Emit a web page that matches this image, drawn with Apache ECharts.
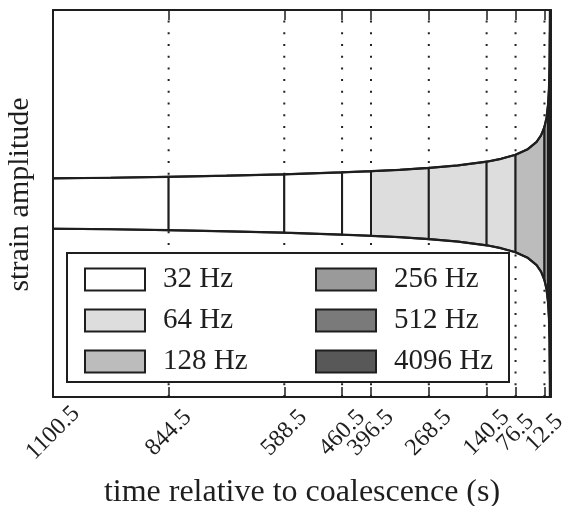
<!DOCTYPE html>
<html>
<head>
<meta charset="utf-8">
<script src="https://cdn.jsdelivr.net/npm/echarts@6/dist/echarts.min.js"></script>
<style>html,body{margin:0;padding:0;background:#fff}#c{width:562px;height:506px}</style>
</head>
<body>
<div id="c"></div>
<script>
// Envelope: time before coalescence (s) and strain amplitude (arbitrary, axis -1..1)
const tau = [1100.5, 972.5, 844.5, 716.5, 588.5, 524.5, 460.5, 396.5, 332.5, 268.5, 204.5, 140.5, 108.5, 76.5, 50, 30, 20, 12.5, 8, 4.5, 2.5, 1.2, 0.5, 0.3];
const amp = [0.130, 0.133, 0.138, 0.144, 0.151, 0.156, 0.161, 0.167, 0.174, 0.184, 0.197, 0.216, 0.231, 0.252, 0.280, 0.318, 0.352, 0.396, 0.442, 0.511, 0.592, 0.711, 0.885, 1.0];
// Tick labels
const ticks = [1100.5, 844.5, 588.5, 460.5, 396.5, 268.5, 140.5, 76.5, 12.5];
// Segments per sample rate [start, end]
const bands = ['32 Hz', '64 Hz', '128 Hz', '256 Hz', '512 Hz', '4096 Hz'];
const seg32 = [[1100.5, 844.5], [844.5, 588.5], [588.5, 460.5], [460.5, 396.5]];
const seg64 = [[396.5, 268.5], [268.5, 140.5], [140.5, 76.5]];
const seg128 = [[76.5, 12.5]];
const seg256 = [[12.5, 4.5]];
const seg512 = [[4.5, 0.5]];
const seg4096 = [[0.5, 0.3]];
const segs = [seg32, seg64, seg128, seg256, seg512, seg4096];
const colors = ['#ffffff', '#dddddd', '#bcbcbc', '#9a9a9a', '#7a7a7a', '#585858'];

const FONT = 'Liberation Serif';
const INK = '#1e1e1e';

// labels split over two bottom axes so that neighbouring labels never get auto-hidden
const ticksA = ticks.filter((t, i) => i % 2 === 0);
const ticksB = ticks.filter((t, i) => i % 2 === 1);

function bandRender(params, api) {
  const t0 = api.value(0), t1 = api.value(1);
  const up = [], lo = [];
  for (let i = 0; i < tau.length; i++) {
    if (tau[i] <= t0 && tau[i] >= t1) {
      up.push(api.coord([tau[i], amp[i]]));
      lo.push(api.coord([tau[i], -amp[i]]));
    }
  }
  const pts = up.concat(lo.reverse());
  return {
    type: 'polygon',
    shape: { points: pts },
    style: { fill: api.visual('color'), stroke: INK, lineWidth: 2 }
  };
}

const series = [];
series.push({
  type: 'custom', name: 'dots', z: 1, silent: true,
  data: ticks.map(t => [t]),
  encode: { x: 0 },
  renderItem: function (params, api) {
    const a = api.coord([api.value(0), -1]);
    const b = api.coord([api.value(0), 1]);
    return { type: 'line', shape: { x1: a[0], y1: a[1], x2: b[0], y2: b[1] },
      style: { stroke: '#222', lineWidth: 2, lineDash: [2, 9.7] } };
  }
});
bands.forEach((name, k) => {
  series.push({
    type: 'custom', name: name, z: 2,
    itemStyle: { color: colors[k] },
    data: segs[k],
    encode: { x: [0, 1] },
    renderItem: bandRender
  });
});
series.push({
  type: 'line', name: 'upper', z: 3, symbol: 'none', silent: true,
  lineStyle: { color: INK, width: 2.2 },
  data: tau.map((t, i) => [t, amp[i]])
});
series.push({
  type: 'line', name: 'lower', z: 3, symbol: 'none', silent: true,
  lineStyle: { color: INK, width: 2.2 },
  data: tau.map((t, i) => [t, -amp[i]])
});

const legendCommon = {
  orient: 'vertical', icon: 'rect', itemWidth: 60, itemHeight: 22, itemGap: 12,
  z: 6, selectedMode: false,
  itemStyle: { borderColor: INK, borderWidth: 2 },
  textStyle: { fontFamily: FONT, fontSize: 29, color: INK, padding: [0, 0, 0, 13] }
};

const labelStyle = { show: true, rotate: 45, align: 'center', verticalAlign: 'middle', margin: 36,
  hideOverlap: false, formatter: v => String(v), fontFamily: FONT, fontSize: 24, color: INK };

const chart = echarts.init(document.getElementById('c'), null, { renderer: 'canvas' });
chart.setOption({
  animation: false,
  backgroundColor: '#fff',
  grid: { left: 53, right: 11, top: 10, bottom: 109, containLabel: false, outerBoundsMode: 'none' },
  graphic: [{
    type: 'rect', z: 4, shape: { x: 67, y: 253, width: 442, height: 129 },
    style: { fill: '#fff', stroke: INK, lineWidth: 2 }
  }],
  legend: [
    Object.assign({}, legendCommon, { data: bands.slice(0, 3), left: 79, top: 260 }),
    Object.assign({}, legendCommon, { data: bands.slice(3), left: 310, top: 260 })
  ],
  xAxis: [{
    type: 'value', inverse: true, min: -2, max: 1100.5, position: 'bottom', z: 5,
    name: 'time relative to coalescence (s)', nameLocation: 'middle', nameGap: 80,
    nameTextStyle: { fontFamily: FONT, fontSize: 32, color: INK },
    axisLine: { show: true, onZero: false, lineStyle: { color: INK, width: 2 } },
    axisTick: { show: true, inside: true, length: 10, customValues: ticks, lineStyle: { color: INK, width: 1.5 } },
    axisLabel: Object.assign({ customValues: ticksA }, labelStyle),
    splitLine: { show: false }
  }, {
    type: 'value', inverse: true, min: -2, max: 1100.5, position: 'top', z: 5,
    axisLine: { show: true, onZero: false, lineStyle: { color: INK, width: 2 } },
    axisTick: { show: true, inside: true, length: 10, customValues: ticks, lineStyle: { color: INK, width: 1.5 } },
    axisLabel: { show: false },
    splitLine: { show: false }
  }, {
    type: 'value', inverse: true, min: -2, max: 1100.5, position: 'bottom', offset: 0, z: 5,
    axisLine: { show: false }, axisTick: { show: false },
    axisLabel: Object.assign({ customValues: ticksB }, labelStyle),
    splitLine: { show: false }
  }],
  yAxis: [{
    type: 'value', min: -1, max: 1, position: 'left', z: 5,
    name: 'strain amplitude', nameLocation: 'middle', nameGap: 18,
    nameTextStyle: { fontFamily: FONT, fontSize: 30, color: INK, padding: [0, 0, 0, 18] },
    axisLine: { show: true, onZero: false, lineStyle: { color: INK, width: 2 } },
    axisTick: { show: false }, axisLabel: { show: false }, splitLine: { show: false }
  }, {
    type: 'value', min: -1, max: 1, position: 'right', z: 5,
    axisLine: { show: true, onZero: false, lineStyle: { color: INK, width: 2 } },
    axisTick: { show: false }, axisLabel: { show: false }, splitLine: { show: false }
  }],
  series: series
});
</script>
</body>
</html>
